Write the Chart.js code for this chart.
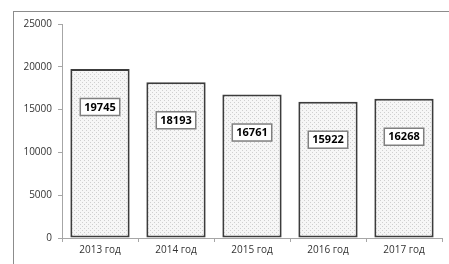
<!DOCTYPE html>
<html>
<head>
<meta charset="utf-8">
<script src="https://cdn.jsdelivr.net/npm/chart.js@4/dist/chart.umd.min.js"></script>
<style>
  html, body { margin: 0; padding: 0; background: #fff; overflow: hidden; }
  #wrap { position: relative; width: 449px; height: 264px; }
  #frame { position: absolute; left: 13px; top: 11px; width: 460px; height: 280px; border: 1px solid #8c8c8c; box-sizing: border-box; }
  canvas { position: absolute; left: 0; top: 0; }
</style>
</head>
<body>
<div id="wrap">
  <div id="frame"></div>
  <canvas id="chart" width="449" height="264"></canvas>
</div>
<script>
// Jahre und Werte
const categories = ['2013 год', '2014 год', '2015 год', '2016 год', '2017 год'];
const values = [19745, 18193, 16761, 15922, 16268];
const yTicks = [0, 5000, 10000, 15000, 20000, 25000];

// gepunktetes Füllmuster wie im Original
function dotPattern() {
    const c = document.createElement('canvas');
    c.width = 4; c.height = 4;
    const g = c.getContext('2d');
    g.fillStyle = '#f6f6f6';
    g.fillRect(0, 0, 4, 4);
    g.fillStyle = '#cfcfcf';
    g.fillRect(0, 0, 1, 1);
    g.fillRect(2, 2, 1, 1);
    return g.createPattern(c, 'repeat');
}

// Beschriftungen in weißen Kästchen
const boxLabels = {
    id: 'boxLabels',
    afterDatasetsDraw(chart) {
        const ctx = chart.ctx;
        const meta = chart.getDatasetMeta(0);
        ctx.save();
        ctx.font = 'bold 11px "Open Sans", sans-serif';
        ctx.textAlign = 'center';
        ctx.textBaseline = 'middle';
        meta.data.forEach((bar, i) => {
            const txt = String(values[i]);
            const w = ctx.measureText(txt).width + 8;
            const h = 17;
            const x = bar.x;
            const y = bar.y + 38;
            ctx.fillStyle = '#fff';
            ctx.fillRect(x - w / 2, y - h / 2, w, h);
            ctx.strokeStyle = '#7f7f7f';
            ctx.lineWidth = 1.5;
            ctx.strokeRect(x - w / 2, y - h / 2, w, h);
            ctx.fillStyle = '#000';
            ctx.fillText(txt, x, y + 0.5);
        });
        ctx.restore();
    }
};

const ctx = document.getElementById('chart').getContext('2d');
new Chart(ctx, {
    type: 'bar',
    data: {
        labels: categories,
        datasets: [{
            data: values,
            backgroundColor: dotPattern(),
            borderColor: '#3c3c3c',
            borderWidth: 2,
            borderSkipped: false,
            categoryPercentage: 0.78,
            barPercentage: 1
        }]
    },
    options: {
        responsive: false,
        animation: false,
        layout: { padding: { top: 24, right: 7, left: 0, bottom: 0 } },
        plugins: { legend: { display: false }, tooltip: { enabled: false } },
        scales: {
            x: {
                afterFit(s) { s.height = 26; },
                grid: { offset: true, drawOnChartArea: false, color: '#a6a6a6', tickLength: 4 },
                border: { color: '#a6a6a6' },
                ticks: { color: '#333', font: { family: '"Open Sans", sans-serif', size: 10 }, padding: 2 }
            },
            y: {
                min: 0,
                max: 25000,
                afterFit(s) { s.width = 62; },
                afterBuildTicks(s) { s.ticks = yTicks.map(v => ({ value: v })); },
                grid: { drawOnChartArea: false, color: '#a6a6a6', tickLength: 4 },
                border: { color: '#a6a6a6' },
                ticks: {
                    color: '#333',
                    font: { family: '"Open Sans", sans-serif', size: 10 },
                    padding: 6,
                    callback: v => String(v)
                }
            }
        }
    },
    plugins: [boxLabels]
});
</script>
</body>
</html>
